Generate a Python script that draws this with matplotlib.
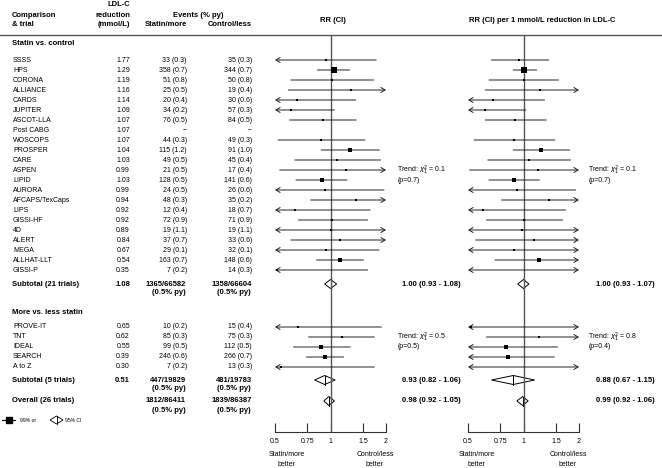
import numpy as np
import matplotlib.pyplot as plt
from matplotlib.patches import Polygon
from matplotlib.ticker import NullLocator

plt.rcParams['font.family'] = ['Liberation Sans', 'DejaVu Sans']

# ---- data ----
names1 = ["SSSS", "HPS", "CORONA", "ALLIANCE", "CARDS", "JUPITER", "ASCOT-LLA",
          "Post CABG", "WOSCOPS", "PROSPER", "CARE", "ASPEN", "LIPID", "AURORA",
          "AFCAPS/TexCaps", "LIPS", "GISSI-HF", "4D", "ALERT", "MEGA",
          "ALLHAT-LLT", "GISSI-P"]
ldl1 = [1.77, 1.29, 1.19, 1.16, 1.14, 1.09, 1.07, 1.07, 1.07, 1.04, 1.03, 0.99,
        1.03, 0.99, 0.94, 0.92, 0.92, 0.89, 0.84, 0.67, 0.54, 0.35]
ev_s1 = [33, 358, 51, 25, 20, 34, 76, None, 44, 115, 49, 21, 128, 24, 48, 12,
         72, 19, 37, 29, 163, 7]
py_s1 = [0.3, 0.7, 0.8, 0.5, 0.4, 0.2, 0.5, None, 0.3, 1.2, 0.5, 0.5, 0.5, 0.5,
         0.3, 0.4, 0.9, 1.1, 0.7, 0.1, 0.7, 0.2]
ev_c1 = [35, 344, 50, 19, 30, 57, 84, None, 49, 91, 45, 17, 141, 26, 35, 18,
         71, 19, 33, 32, 148, 14]
py_c1 = [0.3, 0.7, 0.8, 0.4, 0.6, 0.3, 0.5, None, 0.3, 1.0, 0.4, 0.4, 0.6, 0.6,
         0.2, 0.7, 0.9, 1.1, 0.6, 0.1, 0.6, 0.3]
# RR (CI)
rr1 = [0.94, 1.04, 1.02, 1.29, 0.66, 0.61, 0.91, np.nan, 0.89, 1.28, 1.09, 1.22,
       0.90, 0.93, 1.38, 0.64, 1.02, 1.00, 1.13, 0.94, 1.12, 0.51]
lo1 = [0.49, 0.85, 0.61, 0.59, 0.33, 0.35, 0.60, np.nan, 0.52, 0.89, 0.64, 0.53,
       0.65, 0.45, 0.78, 0.25, 0.67, 0.45, 0.61, 0.48, 0.84, 0.20]
hi1 = [1.77, 1.27, 1.71, 2.6, 1.37, 1.05, 1.38, np.nan, 1.54, 1.84, 1.87, 2.8,
       1.23, 1.95, 2.5, 1.64, 1.59, 2.2, 2.3, 1.83, 1.51, 1.59]
# RR (CI) per 1 mmol/L
rrm1 = [0.95, 1.01, 1.00, 1.23, 0.68, 0.62, 0.90, np.nan, 0.89, 1.25, 1.07, 1.20,
        0.89, 0.92, 1.38, 0.60, 1.01, 0.98, 1.14, 0.89, 1.21, 0.15]
lom1 = [0.67, 0.88, 0.65, 0.62, 0.38, 0.38, 0.62, np.nan, 0.54, 0.88, 0.64, 0.51,
        0.65, 0.45, 0.76, 0.22, 0.63, 0.41, 0.55, 0.34, 0.70, 0.01]
him1 = [1.37, 1.18, 1.55, 2.2, 1.30, 1.03, 1.33, np.nan, 1.48, 1.78, 1.80, 2.8,
        1.22, 1.92, 2.7, 1.69, 1.63, 2.4, 2.7, 2.5, 2.1, 3.8]

names2 = ["PROVE-IT", "TNT", "IDEAL", "SEARCH", "A to Z"]
ldl2 = [0.65, 0.62, 0.55, 0.39, 0.30]
ev_s2 = [10, 85, 99, 246, 7]
py_s2 = [0.2, 0.3, 0.5, 0.6, 0.2]
ev_c2 = [15, 75, 112, 266, 13]
py_c2 = [0.4, 0.3, 0.5, 0.7, 0.3]
rr2 = [0.67, 1.15, 0.89, 0.93, 0.54]
lo2 = [0.30, 0.76, 0.63, 0.74, 0.21]
hi2 = [1.89, 1.73, 1.28, 1.18, 1.73]
rrm2 = [0.52, 1.22, 0.80, 0.82, 0.13]
lom2 = [0.16, 0.63, 0.43, 0.46, 0.006]
him2 = [2.6, 2.4, 1.53, 1.47, 6.2]

# subtotal 1, subtotal 2, overall
sum_labels = ["Subtotal (21 trials)", "Subtotal (5 trials)", "Overall (26 trials)"]
sum_ldl = ["1.08", "0.51", ""]
sum_s = ["1365/66582", "447/19829", "1812/86411"]
sum_c = ["1358/66604", "481/19783", "1839/86387"]
sum_rr = [(1.00, 0.93, 1.08), (0.93, 0.82, 1.06), (0.98, 0.92, 1.05)]
sum_rrm = [(1.00, 0.93, 1.07), (0.88, 0.67, 1.15), (0.99, 0.92, 1.06)]
trend_chi = [0.1, 0.5]
trend_p = [0.7, 0.5]
trend_chi_m = [0.1, 0.8]
trend_p_m = [0.7, 0.4]

# ---- layout (pixels) ----
W, H = 662, 468
y1 = 60 + 10 * np.arange(len(names1))
y2 = 327 + 10 * np.arange(len(names2))
ysum = [284, 380, 401]
FS = 5.0
FB = 5.5
LC = '#222222'

fig = plt.figure(figsize=(W / 100, H / 100), dpi=100)
ax = fig.add_axes([0, 0, 1, 1])
ax.set_xlim(0, W)
ax.set_ylim(H, 0)
ax.axis('off')


def txt(x, y, s, ha='left', bold=False, size=None):
    ax.text(x, y, s, ha=ha, va='center', fontsize=size or (FB if bold else FS),
            fontweight='bold' if bold else 'normal')


# header
txt(12, 15.5, "Comparison", bold=True)
txt(12, 25, "& trial", bold=True)
txt(130, 5, "LDL-C", ha='right', bold=True)
txt(130, 15.5, "reduction", ha='right', bold=True)
txt(130, 25, "(mmol/L)", ha='right', bold=True)
txt(198, 15.5, "Events (% py)", ha='center', bold=True)
txt(187, 25, "Statin/more", ha='right', bold=True)
txt(252, 25, "Control/less", ha='right', bold=True)
txt(333, 20, "RR (CI)", ha='center', bold=True)
txt(542, 20, "RR (CI) per 1 mmol/L reduction in LDL-C", ha='center', bold=True)
ax.plot([0, W], [35, 35], color='#555555', lw=1)

txt(12, 43.5, "Statin vs. control", bold=True)
txt(12, 312.7, "More vs. less statin", bold=True)


def ev(n, p):
    return "--" if n is None else f"{n} ({p:.1f})"


for names, ldl, es, ps, ec, pc, ys in [(names1, ldl1, ev_s1, py_s1, ev_c1, py_c1, y1),
                                       (names2, ldl2, ev_s2, py_s2, ev_c2, py_c2, y2)]:
    for i, y in enumerate(ys):
        txt(13, y, names[i])
        txt(130, y, f"{ldl[i]:.2f}", ha='right')
        txt(187, y, ev(es[i], ps[i]), ha='right')
        txt(252, y, ev(ec[i], pc[i]), ha='right')

for i, y in enumerate(ysum):
    txt(12, y, sum_labels[i], bold=True)
    if sum_ldl[i]:
        txt(130, y, sum_ldl[i], ha='right', bold=True)
    txt(186, y, sum_s[i], ha='right', bold=True)
    txt(186, y + 9, "(0.5% py)", ha='right', bold=True)
    txt(252, y, sum_c[i], ha='right', bold=True)
    txt(251, y + 9, "(0.5% py)", ha='right', bold=True)
    e, l, h = sum_rr[i]
    txt(402, y, f"{e:.2f} ({l:.2f} - {h:.2f})", bold=True)
    e, l, h = sum_rrm[i]
    txt(596, y, f"{e:.2f} ({l:.2f} - {h:.2f})", bold=True)

for k, yt in enumerate([170.5, 337]):
    txt(397, yt, rf"Trend: $\chi_1^2$ = {trend_chi[k]}")
    txt(398, yt + 10, f"(p={trend_p[k]})")
    txt(588, yt, rf"Trend: $\chi_1^2$ = {trend_chi_m[k]}")
    txt(589, yt + 10, f"(p={trend_p_m[k]})")

# legend
ax.plot([2, 15], [420, 420], color='black', lw=0.8)
ax.plot(9, 420, 's', ms=4, color='black')
txt(20, 420, "99% or", size=3.6)
ax.add_patch(Polygon([[50, 420], [56.5, 416], [63, 420], [56.5, 424]], closed=True,
                     fc='white', ec='black', lw=0.6))
ax.plot([56.5, 56.5], [416, 424], color='black', lw=0.6)
txt(65, 420, "95% CI", size=3.6)


def forest_axes(x05, x2):
    a = fig.add_axes([x05 / W, (H - 432) / H, (x2 - x05) / W, (432 - 35) / H])
    a.set_xscale('log', base=2)
    a.set_xlim(0.5, 2)
    a.set_ylim(432, 35)
    a.patch.set_alpha(0)
    for s in ['top', 'left', 'right']:
        a.spines[s].set_visible(False)
    a.spines['bottom'].set_color('#333333')
    a.spines['bottom'].set_linewidth(0.8)
    a.set_xticks([0.5, 0.75, 1, 1.5, 2])
    a.set_xticklabels(['0.5', '0.75', '1', '1.5', '2'])
    a.xaxis.set_minor_locator(NullLocator())
    a.tick_params(axis='x', direction='in', length=6.5, width=0.8, pad=4,
                  labelsize=FS, color='#333333')
    a.set_yticks([])
    a.axvline(1, color='#555555', lw=1, zorder=3)
    return a


def draw_trial(a, y, est, lo, hi, size_px):
    if np.isnan(lo):
        return
    lc, hc = lo < 0.5, hi > 2
    style = {(False, False): '-', (True, False): '<-', (False, True): '->',
             (True, True): '<->'}[(lc, hc)]
    if style != '-':
        style += ',head_length=0.5,head_width=0.3'
    a.annotate('', xy=(min(hi, 2), y), xytext=(max(lo, 0.5), y),
               arrowprops=dict(arrowstyle=style, lw=0.7, color=LC, shrinkA=0,
                               shrinkB=0, mutation_scale=6),
               annotation_clip=False)
    if 0.5 <= est <= 2:
        a.plot(est, y, 's', ms=size_px * 0.72, color='black', mew=0,
               clip_on=False, zorder=4)


def draw_diamond(a, y, est, lo, hi, h=4.5):
    a.add_patch(Polygon([[lo, y], [est, y - h], [hi, y], [est, y + h]], closed=True,
                        fc='white', ec='black', lw=0.7, zorder=2))
    a.plot([est, est], [y - h, y + h], color='black', lw=0.7, zorder=2)


axL = forest_axes(275, 386)
axR = forest_axes(468, 579)

# square size follows the number of events in each trial
ev_tot = [(0 if s is None else s) + (0 if c is None else c)
          for s, c in zip(ev_s1 + ev_s2, ev_c1 + ev_c2)]
sizes = [max(2.6, 5.8 * np.sqrt(t / 702)) for t in ev_tot]
ys_all = list(y1) + list(y2)

for a, est, lo, hi, sm in [(axL, rr1 + rr2, lo1 + lo2, hi1 + hi2, sum_rr),
                           (axR, rrm1 + rrm2, lom1 + lom2, him1 + him2, sum_rrm)]:
    for i, y in enumerate(ys_all):
        draw_trial(a, y, est[i], lo[i], hi[i], sizes[i])
    for i, y in enumerate(ysum):
        draw_diamond(a, y, *sm[i])

for cl, cr in [(287, 375), (477, 568)]:
    txt(cl, 455, "Statin/more", ha='center')
    txt(cl, 464, "better", ha='center')
    txt(cr, 455, "Control/less", ha='center')
    txt(cr, 464, "better", ha='center')

fig.savefig('out.png', dpi=100)
